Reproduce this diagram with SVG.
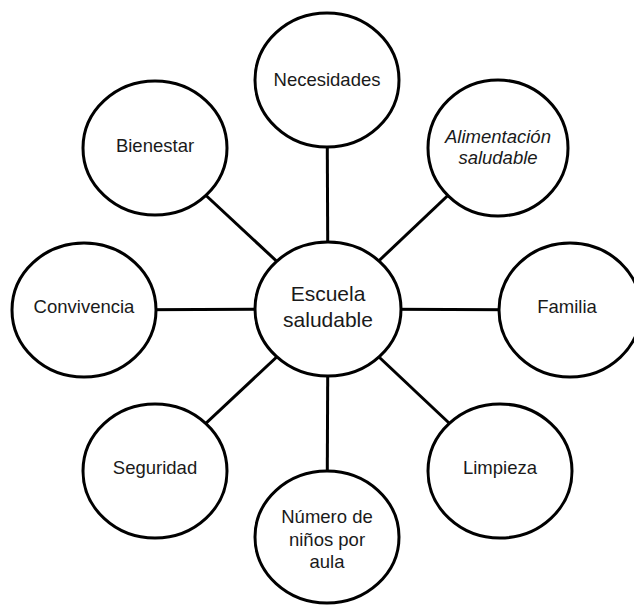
<svg xmlns="http://www.w3.org/2000/svg" width="634" height="605" viewBox="0 0 634 605">
<style>
.n{fill:#fff;stroke:#000;stroke-width:3}
.c line{stroke:#000;stroke-width:3}
text{font-family:"Liberation Sans",Arial,sans-serif;font-size:18.5px;fill:#1a1a1a;text-anchor:middle}
.big{font-size:21px}
.it{font-style:italic}
</style>
<rect width="634" height="605" fill="#fff"/>
<g class="c" id="connectors">
<line x1="328" y1="309" x2="327" y2="80"/>
<line x1="328" y1="309" x2="498" y2="148"/>
<line x1="328" y1="309" x2="570" y2="310"/>
<line x1="328" y1="309" x2="500" y2="471"/>
<line x1="328" y1="309" x2="327" y2="537"/>
<line x1="328" y1="309" x2="155" y2="471"/>
<line x1="328" y1="309" x2="84" y2="310"/>
<line x1="328" y1="309" x2="155" y2="148"/>
</g>
<g id="necesidades"><ellipse class="n" cx="327" cy="80" rx="72" ry="67"/><text x="327" y="86">Necesidades</text></g>
<g id="alimentacion"><ellipse class="n" cx="498" cy="148" rx="70" ry="68"/><text class="it" x="498" y="143">Alimentación</text><text class="it" x="498" y="164">saludable</text></g>
<g id="familia"><ellipse class="n" cx="570" cy="310" rx="71" ry="67"/><text x="567" y="313">Familia</text></g>
<g id="limpieza"><ellipse class="n" cx="500" cy="471" rx="72" ry="67"/><text x="500" y="474">Limpieza</text></g>
<g id="numero"><ellipse class="n" cx="327" cy="537" rx="72" ry="66"/><text x="327" y="523">Número de</text><text x="327" y="546">niños por</text><text x="327" y="568">aula</text></g>
<g id="seguridad"><ellipse class="n" cx="155" cy="471" rx="72" ry="67"/><text x="155" y="474">Seguridad</text></g>
<g id="convivencia"><ellipse class="n" cx="84" cy="310" rx="72" ry="67"/><text x="84" y="313">Convivencia</text></g>
<g id="bienestar"><ellipse class="n" cx="155" cy="148" rx="72" ry="67"/><text x="155" y="152">Bienestar</text></g>
<g id="escuela"><ellipse class="n" cx="328" cy="309" rx="73" ry="67"/><text class="big" x="328" y="301">Escuela</text><text class="big" x="328" y="327">saludable</text></g>
</svg>
